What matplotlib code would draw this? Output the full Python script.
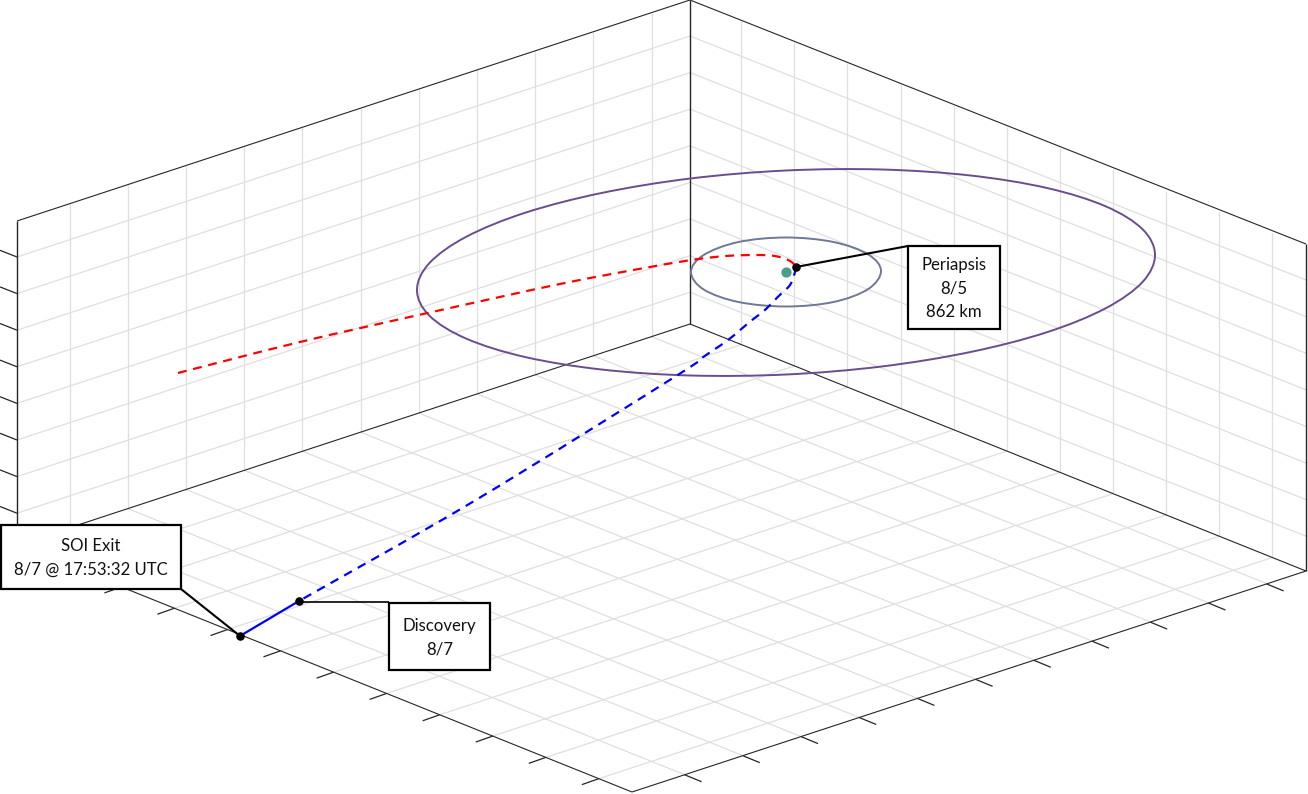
from matplotlib import pyplot as plt
from matplotlib.path import Path
from matplotlib.patches import PathPatch, Rectangle

plt.rcParams['font.family'] = ['Lato', 'DejaVu Sans']
plt.rcParams['lines.scale_dashes'] = False

# Box corners of the 3D view in pixels
left_top, left_bot = (17, 221), (17, 545)
back_top, back_bot = (690, 0), (690, 324)
right_top, right_bot = (1306, 244), (1306, 571)
front_bot = (632, 792)

# Tick positions along each edge, in pixels from the start of that edge
x_ticks = [52.6, 110.8, 169, 227.2, 285.4, 343.6, 401.8, 460, 518.2, 576.4, 634.6]
y_ticks = [51.3, 104.4, 157.4, 210.5, 263.5, 316.6, 369.6, 422.7, 475.7, 528.8, 581.8]
z_ticks = [36, 72.6, 109.2, 145.8, 182.4, 219, 255.6, 292.2]

# Trajectory and orbits
outer_x = [1155, 1142.5, 1105.6, 1047, 970.5, 881.6, 786, 690.4, 601.5, 525, 466.4, 429.5,
           417, 429.5, 466.4, 525, 601.5, 690.4, 786, 881.6, 970.5, 1047, 1105.6, 1142.5]
outer_y = [255, 282, 308.3, 332.2, 352, 366.5, 374.5, 375.5, 369.5, 357, 338.7, 315.8,
           290, 263, 236.7, 212.8, 193, 178.5, 170.5, 169.5, 175.5, 188, 206.3, 229.2]
inner_x = [881, 868.3, 833.5, 786, 738.5, 703.7, 691, 703.7, 738.5, 786, 833.5, 868.3]
inner_y = [271, 289, 302, 306.5, 302, 289.5, 272, 255, 242, 237.5, 242, 254.5]
red_x = [178, 300, 429, 560, 650, 695, 726, 755, 775, 790, 796]
red_y = [373, 342, 312.7, 284, 267, 259.5, 256, 255, 256, 261, 267]
blue_x = [796, 795, 790, 778, 765, 750, 728, 701.7, 675, 473, 299]
blue_y = [267, 272, 285, 296.7, 310, 321.7, 340, 358, 376.7, 501.7, 601]
solid_x = [299, 240]
solid_y = [601, 636]

planet = (786, 272)
dots_x = [796, 299, 240]
dots_y = [267, 601, 636]

# left, top, right, bottom, text, leader start and end, leader width
boxes = [
    (908, 246, 1000, 329, 'Periapsis\n8/5\n862 km', (908, 246), (796, 267), 1.5),
    (389, 603, 490, 670, 'Discovery\n8/7', (389, 602), (299, 602), 1.2),
    (1, 525, 181, 589, 'SOI Exit\n8/7 @ 17:53:32 UTC', (181, 589), (240, 636), 1.5),
]


def along(p, q, dist):
    # point dist pixels (in x) from p towards q
    t = dist / float(q[0] - p[0])
    return p[0] + t * (q[0] - p[0]), p[1] + t * (q[1] - p[1])


def smooth(xs, ys, closed=False):
    # Catmull-Rom through the read points, as bezier segments
    pts = list(zip(xs, ys))
    n = len(pts)
    verts, codes = [pts[0]], [Path.MOVETO]
    for i in range(n if closed else n - 1):
        if closed:
            p0, p1, p2, p3 = pts[(i - 1) % n], pts[i], pts[(i + 1) % n], pts[(i + 2) % n]
        else:
            p0, p1, p2, p3 = pts[max(i - 1, 0)], pts[i], pts[i + 1], pts[min(i + 2, n - 1)]
        c1 = (p1[0] + (p2[0] - p0[0]) / 6., p1[1] + (p2[1] - p0[1]) / 6.)
        c2 = (p2[0] - (p3[0] - p1[0]) / 6., p2[1] - (p3[1] - p1[1]) / 6.)
        verts += [c1, c2, p2]
        codes += [Path.CURVE4] * 3
    return Path(verts, codes)


fig = plt.figure(figsize=(13.08, 7.94), dpi=100)
ax = fig.add_axes([0, 0, 1, 1])
ax.set_xlim(0, 1308)
ax.set_ylim(794, 0)
ax.axis('off')

GRID = '#dfdfdf'
AXIS = '#262626'


def seg(p, q, color, lw, z=1):
    ax.plot([p[0], q[0]], [p[1], q[1]], color=color, lw=lw, zorder=z, solid_capstyle='butt')


# Grid: left wall, right wall, floor
for d in x_ticks:
    a = along(left_bot, back_bot, d)
    seg(a, (a[0], a[1] - 324), GRID, 0.9)
    seg(a, along(a, (a[0] + 615, a[1] + 247), 615), GRID, 0.9)
for d in y_ticks:
    a = along(back_bot, right_bot, d)
    seg(a, (a[0], a[1] - 324), GRID, 0.9)
    b = along(left_bot, front_bot, d)
    seg(b, (b[0] + 673, b[1] - 221), GRID, 0.9)
for d in z_ticks:
    seg((left_top[0], left_top[1] + d), (back_top[0], back_top[1] + d), GRID, 0.9)
    seg((back_top[0], back_top[1] + d), (right_top[0], right_top[1] + d), GRID, 0.9)

# Box edges
for p, q in [(left_top, back_top), (back_top, right_top), (left_bot, back_bot), (back_bot, right_bot),
             (left_bot, front_bot), (front_bot, right_bot)]:
    seg(p, q, AXIS, 0.8, 2)
for p, q in [(left_top, left_bot), (back_top, back_bot), (right_top, right_bot)]:
    seg(p, q, AXIS, 1.0, 2)

# Ticks
for d in x_ticks:
    a = along(front_bot, right_bot, d)
    seg(a, (a[0] + 17, a[1] + 7), AXIS, 0.9, 2)
for d in y_ticks:
    a = along(left_bot, front_bot, d)
    seg(a, (a[0] - 17, a[1] + 6), AXIS, 0.9, 2)
for d in z_ticks:
    seg((left_top[0], left_top[1] + d), (0, left_top[1] + d - 6.7), AXIS, 0.9, 2)

# Orbits
ax.add_patch(PathPatch(smooth(outer_x, outer_y, True), fill=False, ec='#6b4c8f', lw=1.4, zorder=3))
ax.add_patch(PathPatch(smooth(inner_x, inner_y, True), fill=False, ec='#6f7896', lw=1.4, zorder=3))

# Trajectory
ax.add_patch(PathPatch(smooth(red_x, red_y), fill=False, ec='#ff0000', lw=1.6, ls=(0, (6.4, 4.8)),
                       capstyle='butt', zorder=4))
ax.add_patch(PathPatch(smooth(blue_x, blue_y), fill=False, ec='#0000ff', lw=1.6, ls=(0, (6.4, 4.8)),
                       capstyle='butt', zorder=4))
ax.plot(solid_x, solid_y, color='#0000ff', lw=1.6, zorder=4)

ax.scatter([planet[0]], [planet[1]], s=55, color='#4a9d8f', zorder=5, linewidths=0)

for left, top, right, bottom, txt, start, end, leader_lw in boxes:
    seg(start, end, 'black', leader_lw, 5)
    ax.add_patch(Rectangle((left, top), right - left, bottom - top, fc='white', ec='black', lw=1.6, zorder=6))
    ax.text((left + right) / 2., (top + bottom) / 2. + 1, txt, ha='center', va='center', fontsize=12.1,
            linespacing=1.55, color='#111111', zorder=7)

ax.scatter(dots_x, dots_y, s=38, color='black', zorder=6, linewidths=0)

fig.savefig('out.png', dpi=100)
